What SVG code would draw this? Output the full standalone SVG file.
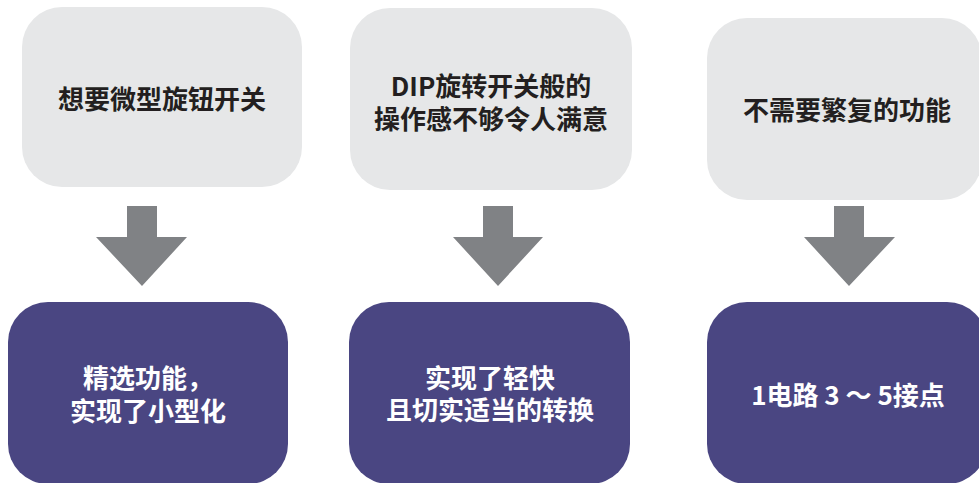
<svg xmlns="http://www.w3.org/2000/svg" width="979" height="483" viewBox="0 0 979 483">
<defs>
<style>
.top{fill:#e6e7e8}
.bot{fill:#4a4682}
.arr{fill:#808285}
text{font-family:"Noto Sans CJK SC","Noto Sans CJK JP",sans-serif;font-weight:bold;font-size:26px;text-anchor:middle;dominant-baseline:central}
.dk{fill:#231f20}
.lt{fill:#ffffff}
</style>
</defs>
<rect width="979" height="483" fill="#ffffff"/>
<g id="n1"><rect class="top" x="22" y="7" width="280" height="180" rx="40"/><text class="dk" x="162" y="97">想要微型旋钮开关</text></g>
<g id="n2"><rect class="top" x="350" y="8" width="282" height="182" rx="40"/><text class="dk" x="491" y="84">DIP旋转开关般的</text><text class="dk" x="491" y="117">操作感不够令人满意</text></g>
<g id="n3"><rect class="top" x="707" y="18" width="275" height="182" rx="40"/><text class="dk" x="847" y="108">不需要繁复的功能</text></g>
<g id="n4"><rect class="bot" x="8" y="302" width="280" height="182" rx="40"/><text class="lt" x="148" y="376">精选功能，</text><text class="lt" x="148" y="409">实现了小型化</text></g>
<g id="n5"><rect class="bot" x="349" y="302" width="281" height="182" rx="40"/><text class="lt" x="490" y="376">实现了轻快</text><text class="lt" x="490" y="408">且切实适当的转换</text></g>
<g id="n6"><rect class="bot" x="707" y="302" width="280" height="182" rx="40"/><text class="lt" x="848" y="393">1电路 3 ～ 5接点</text></g>
<g id="connectors">
<polygon class="arr" points="127,206 157,206 157,237 187,237 142,286 96,237 127,237"/>
<polygon class="arr" points="483,206 513,206 513,237 543,237 498,286 453,237 483,237"/>
<polygon class="arr" points="834,206 864,206 864,237 895,237 849,286 804,237 834,237"/>
</g>
</svg>
